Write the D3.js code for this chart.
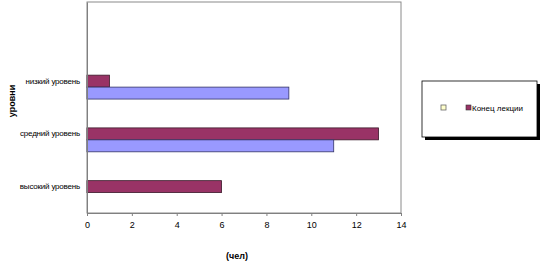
<!DOCTYPE html>
<html>
<head>
<meta charset="utf-8">
<script src="https://cdn.jsdelivr.net/npm/d3@7"></script>
<style>
  body { margin: 0; background: #fff; }
  text { font-family: "Liberation Sans", Arial, sans-serif; fill: #000; }
</style>
</head>
<body>
<div class="chart"></div>
<script>
// categories from top to bottom (top one is empty in the original)
var categories = ["", "низкий уровень", "средний уровень", "высокий уровень"];
var seriesNames = ["", "Конец лекции", "Начало лекции"];
var endValues = [null, 1, 13, 6];     // maroon bars
var startValues = [null, 9, 11, 0];   // blue bars
var xTicks = [0, 2, 4, 6, 8, 10, 12, 14];

var margin = {top: 2, right: 141, bottom: 49, left: 87},
    width = 542 - margin.left - margin.right,
    height = 262 - margin.top - margin.bottom;

var svg = d3.select(".chart").append("svg")
    .attr("width", 542)
    .attr("height", 262);

var g = svg.append("g")
    .attr("transform", "translate(" + margin.left + "," + margin.top + ")");

var x = d3.scaleLinear().domain([0, 14]).range([0, width]);
var y = d3.scaleBand().domain(categories).range([0, height]).paddingInner(0).paddingOuter(0);
// three slots per category: empty series, maroon, blue
var slot = d3.scaleBand().domain([0, 1, 2]).range([y.bandwidth() * 0.16, y.bandwidth() * 0.84]);

// plot area border
g.append("rect")
    .attr("x", 0).attr("y", 0)
    .attr("width", width).attr("height", height)
    .attr("fill", "none")
    .attr("stroke", "#8a8a8a");

var rows = categories.map(function(c, i) {
  return {cat: c, end: endValues[i], start: startValues[i]};
});

g.selectAll(".end")
    .data(rows.filter(function(d) { return d.end; }))
    .enter().append("rect")
    .attr("class", "end")
    .attr("x", x(0))
    .attr("y", function(d) { return y(d.cat) + slot(1); })
    .attr("width", function(d) { return x(d.end) - x(0); })
    .attr("height", slot.bandwidth())
    .attr("fill", "#993366")
    .attr("stroke", "#3a1a2a")
    .attr("stroke-width", 0.8);

g.selectAll(".start")
    .data(rows.filter(function(d) { return d.start; }))
    .enter().append("rect")
    .attr("class", "start")
    .attr("x", x(0))
    .attr("y", function(d) { return y(d.cat) + slot(2); })
    .attr("width", function(d) { return x(d.start) - x(0); })
    .attr("height", slot.bandwidth())
    .attr("fill", "#9999ff")
    .attr("stroke", "#333366")
    .attr("stroke-width", 0.8);

// x axis
var xAxis = g.append("g")
    .attr("transform", "translate(0," + height + ")")
    .call(d3.axisBottom(x).tickValues(xTicks).tickSize(3).tickSizeOuter(0));
xAxis.select(".domain").attr("stroke", "#808080");
xAxis.selectAll(".tick line").attr("stroke", "#808080");
xAxis.selectAll("text").style("font-size", "9px").attr("dy", "0.95em");

// y axis
var yAxis = g.append("g")
    .call(d3.axisLeft(y).tickSize(0).tickPadding(7));
yAxis.select(".domain").attr("stroke", "#808080");
yAxis.selectAll("text").style("font-size", "8px").style("letter-spacing", "-0.2px")
    .attr("transform", "translate(0," + (slot(1) + slot.bandwidth() / 2 - y.bandwidth() / 2) + ")");

// axis titles
svg.append("text")
    .attr("transform", "translate(15,101) rotate(-90)")
    .attr("text-anchor", "middle")
    .style("font-size", "9px")
    .style("font-weight", "bold")
    .text("уровни");

svg.append("text")
    .attr("x", 237).attr("y", 259)
    .attr("text-anchor", "middle")
    .style("font-size", "9px")
    .style("font-weight", "bold")
    .text("(чел)");

// legend
var lg = svg.append("g").attr("transform", "translate(422,81)");
lg.append("rect").attr("x", 3).attr("y", 3).attr("width", 115).attr("height", 56).attr("fill", "#000");
lg.append("rect").attr("x", 0).attr("y", 0).attr("width", 115).attr("height", 56)
    .attr("fill", "#fff").attr("stroke", "#000").attr("stroke-width", 0.8);
lg.append("rect").attr("x", 19).attr("y", 24).attr("width", 5).attr("height", 5)
    .attr("fill", "#ffffcc").attr("stroke", "#666").attr("stroke-width", 0.8);
lg.append("rect").attr("x", 44).attr("y", 24).attr("width", 5).attr("height", 5)
    .attr("fill", "#993366").attr("stroke", "#333").attr("stroke-width", 0.6);
lg.append("text").attr("x", 50).attr("y", 29.5)
    .style("font-size", "8px")
    .text(seriesNames[1]);
</script>
</body>
</html>
